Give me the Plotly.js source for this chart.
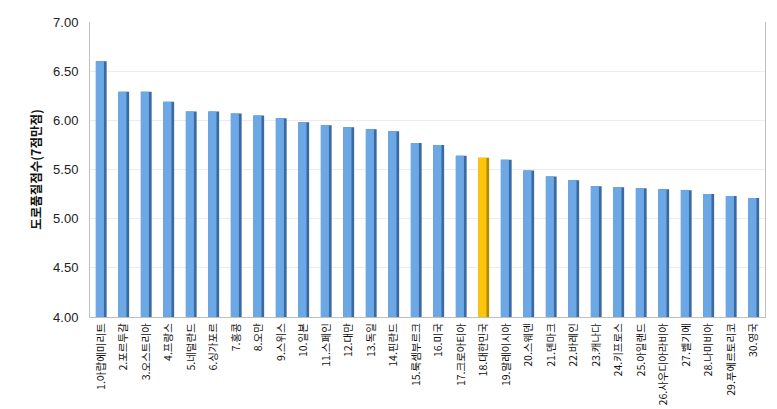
<!DOCTYPE html>
<html>
<head>
<meta charset="utf-8">
<script src="https://cdn.plot.ly/plotly-3.0.1.min.js"></script>
<style>html,body{margin:0;padding:0;background:#fff;}#chart{width:777px;height:409px;}</style>
</head>
<body>
<div id="chart"></div>
<script>
const categories = ["1.아랍에미리트","2.포르투갈","3.오스트리아","4.프랑스","5.네덜란드","6.싱가포르","7.홍콩","8.오만","9.스위스","10.일본","11.스페인","12.대만","13.독일","14.핀란드","15.룩셈부르크","16.미국","17.크로아티아","18.대한민국","19.말레이시아","20.스웨덴","21.덴마크","22.바레인","23.캐나다","24.키프로스","25.아일랜드","26.사우디아라비아","27.벨기에","28.나미비아","29.푸에르토리코","30.영국"];
const scores = [6.60,6.29,6.29,6.19,6.09,6.09,6.07,6.05,6.02,5.98,5.95,5.93,5.91,5.89,5.77,5.75,5.64,5.62,5.60,5.49,5.43,5.39,5.33,5.32,5.31,5.30,5.29,5.25,5.23,5.21];
const highlight = "18.대한민국";
const yTicks = [4.00,4.50,5.00,5.50,6.00,6.50,7.00];

const frontColors = categories.map(c => c === highlight ? "#ffc50a" : "#6ca8e6");
const sideColors = categories.map(c => c === highlight ? "#b58a00" : "#3b6aa3");

const side = {
  type: "bar", x: categories, y: scores,
  width: 0.48, offset: -0.24,
  marker: {color: sideColors, line: {width: 0}},
  hoverinfo: "skip"
};
const front = {
  type: "bar", x: categories, y: scores,
  width: 0.36, offset: -0.24,
  marker: {color: frontColors, line: {width: 0}},
  hoverinfo: "x+y"
};

const layout = {
  width: 777, height: 409,
  margin: {l: 90, r: 12, t: 22, b: 92},
  paper_bgcolor: "#ffffff", plot_bgcolor: "#ffffff",
  barmode: "overlay",
  showlegend: false,
  font: {family: "Liberation Sans, Arial, sans-serif", color: "#222"},
  xaxis: {
    type: "category",
    tickangle: -90,
    tickfont: {family: "Noto Sans CJK KR, sans-serif", size: 10.5, color: "#111"},
    showline: true, linecolor: "#bfbfbf", linewidth: 1,
    ticks: "", showgrid: false,
    ticklabelstandoff: 1
  },
  yaxis: {
    range: [4, 7],
    tickvals: yTicks,
    ticktext: yTicks.map(v => v.toFixed(2)),
    tickfont: {family: "Liberation Sans, Arial, sans-serif", size: 13, color: "#222"},
    gridcolor: "#ececec", gridwidth: 1,
    showline: true, mirror: true, linecolor: "#bfbfbf", linewidth: 1,
    ticks: "", ticklen: 0,
    ticklabelstandoff: 8,
    zeroline: false,
    title: {text: "도로품질점수(7점만점)", font: {family: "Noto Sans CJK KR, sans-serif", size: 12.5, color: "#111", weight: "bold"}, standoff: 8}
  }
};

Plotly.newPlot("chart", [side, front], layout, {displayModeBar: false, staticPlot: true});
</script>
</body>
</html>
